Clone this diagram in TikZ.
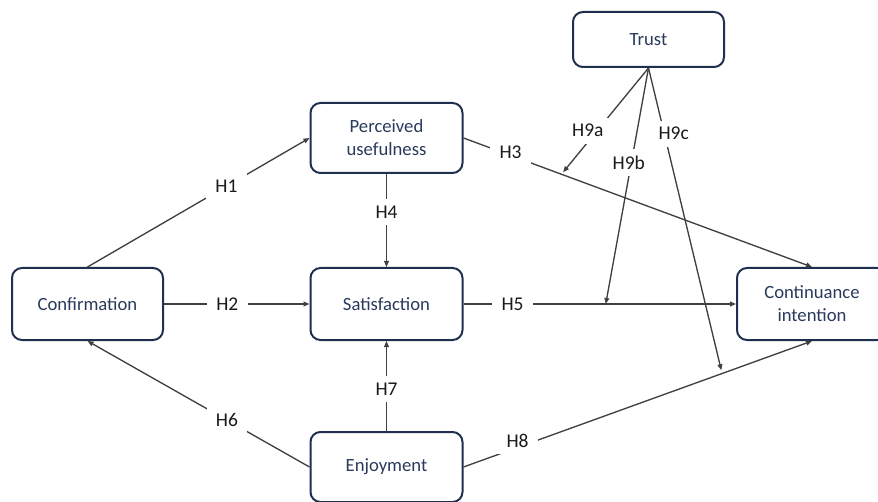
\documentclass[tikz,border=0pt]{standalone}
\usepackage{fontspec}
\setmainfont{Carlito}
\usetikzlibrary{arrows.meta}
\definecolor{boxc}{HTML}{1F2F4F}
\definecolor{txtc}{HTML}{2A3A5C}
\definecolor{linec}{HTML}{404040}
\definecolor{lblc}{HTML}{1A1A1A}
\begin{document}
\begin{tikzpicture}[x=0.75pt,y=-0.75pt,
  box/.style={draw=boxc, line width=1.5pt, rounded corners=7.5pt, minimum width=114pt, minimum height=54pt, align=center, text=txtc, font=\fontsize{14}{17.2}\selectfont, inner sep=0pt},
  conn/.style={draw=linec, line width=1pt, -{Triangle[length=4.5pt,width=3.6pt]}},
  lbl/.style={fill=white, inner xsep=7pt, inner ysep=5pt, text=lblc, font=\fontsize{14.6}{17}\selectfont}]
\useasboundingbox (0,0) rectangle (878,502);
\fill[white] (0,0) rectangle (878,502);
% nodes
\node[box, minimum width=113.25pt] (conf) at (87.5,304) {Confirmation};
\node[box, minimum height=52.5pt] (pu) at (386.5,138) {Perceived\\usefulness};
\node[box] (sat) at (386.5,304) {Satisfaction};
\node[box, minimum height=52.5pt] (enj) at (386.5,467) {Enjoyment};
\node[box, minimum width=112.5pt] (ci) at (812,304) {Continuance\\intention};
\node[box, minimum width=113.25pt, minimum height=41.25pt] (trust) at (648.5,39.5) {Trust};
% moderation targets on paths
\path (pu.east) -- coordinate[pos=0.281] (m3) (ci.north);
\path (sat.east) -- coordinate[pos=0.522] (m5) (ci.west);
\path (enj.east) -- coordinate[pos=0.742] (m8) (ci.south);
% connectors
\draw[conn] (conf.north) -- node[lbl,pos=0.626]{H1} (pu.west);
\draw[conn] (conf.east) -- node[lbl,pos=0.435]{H2} (sat.west);
\draw[conn] (pu.east) -- node[lbl,pos=0.135,yshift=2pt]{H3} (ci.north);
\draw[conn] (pu.south) -- node[lbl,pos=0.41]{H4} (sat.north);
\draw[conn] (sat.east) -- node[lbl,pos=0.18]{H5} (ci.west);
\draw[conn] (enj.west) -- node[lbl,pos=0.372]{H6} (conf.south);
\draw[conn] (enj.north) -- node[lbl,pos=0.467]{H7} (sat.south);
\draw[conn] (enj.east) -- node[lbl,pos=0.155,yshift=5pt]{H8} (ci.south);
\draw[conn, shorten >=2pt] (trust.south) -- node[lbl,pos=0.59,xshift=-7pt]{H9a} (m3);
\draw[conn] (trust.south) -- node[lbl,pos=0.40,xshift=-2pt]{H9b} (m5);
\draw[conn, shorten >=2.5pt] (trust.south) -- node[lbl,pos=0.215,xshift=7pt]{H9c} (m8);
\end{tikzpicture}
\end{document}
